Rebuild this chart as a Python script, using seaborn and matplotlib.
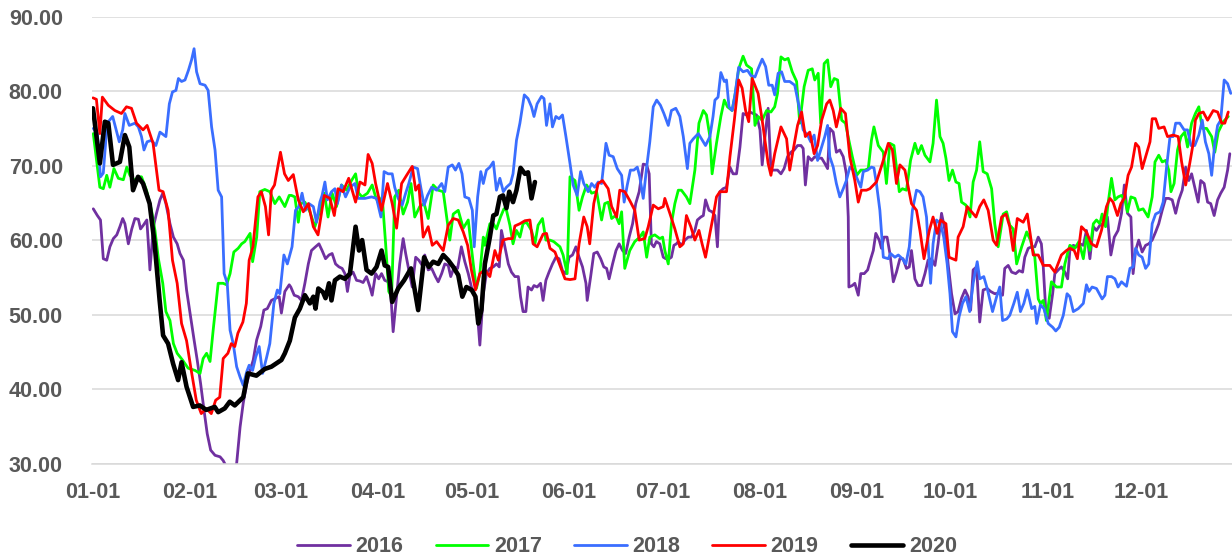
import pandas as pd
import seaborn as sns
import matplotlib.pyplot as plt

# Series names and colours
years = ['2016', '2017', '2018', '2019', '2020']
colors = ['#7030A0', '#00FF00', '#3A6EFF', '#FF0000', '#000000']

# Month ticks (day of year, leap year)
month_days = [0, 31, 60, 91, 121, 152, 182, 213, 244, 274, 305, 335]
month_labels = ['01-01', '02-01', '03-01', '04-01', '05-01', '06-01',
                '07-01', '08-01', '09-01', '10-01', '11-01', '12-01']

# (day of year, value)
s2016 = [(0.1, 64.2), (1.4, 63.3), (2.4, 62.7), (3.3, 57.5), (4.4, 57.3), (5.4, 59.1), (6.5, 60.2), (7.6, 60.7),
         (8.6, 61.8), (9.5, 62.9), (10.2, 62.2), (11.3, 59.5), (12.4, 61.5), (13.4, 62.9), (14.5, 62.8), (15.2, 61.5),
         (16.1, 62), (17.2, 62.7), (17.7, 59.5), (18.2, 56), (19.3, 61.8), (20.3, 63.6), (21.4, 65.4), (22.3, 66.3),
         (23.3, 64.9), (24.6, 62.2), (25.7, 60.4), (26.9, 59.5), (27.8, 58.2), (28.9, 57.3), (29.9, 53.3), (31, 50.2),
         (32.3, 46.6), (33.3, 43.9), (34.4, 40.7), (35.5, 37.1), (36.5, 34), (37.6, 31.8), (39, 31.1), (40.6, 30.9),
         (41.6, 30.4), (42.7, 29.5), (44, 27.0), (45.9, 30), (47, 34.9), (48, 38.1), (49.1, 40.7), (50.2, 42.5),
         (51.2, 43.9), (52.3, 46.6), (53.6, 48.4), (54.6, 50.6), (55.7, 50.8), (57, 51.9), (58.4, 52.2), (59.5, 52.4),
         (60.2, 50.2), (61.3, 53.1), (62.7, 54), (63.2, 53.7), (64.3, 52.6), (65.6, 52.4), (66.6, 51.9), (67.7, 54.2),
         (68.8, 56.8), (69.8, 58.6), (71.1, 59.1), (72.2, 59.5), (73.2, 58.6), (74.3, 57.5), (75.4, 58), (76.4, 58.2),
         (77.5, 56.8), (78.6, 56.4), (79.6, 56.2), (80.5, 55.5), (81.3, 53.1), (82.1, 55.3), (83.1, 55.7), (84.2, 54.6),
         (85.3, 54.5), (86.3, 54.3), (87.4, 55.1), (88.5, 53.7), (89.2, 52.6), (90.3, 55.5), (91.3, 54.8), (92.2, 55.5),
         (93.2, 54.6), (94.3, 54.4), (95.2, 52.4), (95.9, 47.7), (97, 52.4), (98, 56.8), (99.1, 60.2), (99.9, 58.2),
         (100.9, 56), (102, 53.7), (103.1, 57.7), (104.1, 57.3), (105.2, 56.6), (106, 58), (107.1, 56), (108.2, 56.2),
         (109.4, 55.1), (110.3, 54.4), (111.4, 55.5), (112.4, 56.8), (113.5, 56.6), (114.3, 55.1), (115.4, 56.4),
         (116.5, 56.2), (117.7, 59.1), (118.8, 57.1), (119.9, 55.5), (120.9, 53.7), (122, 52.6), (122.9, 49.7),
         (123.6, 45.9), (124.7, 52.8), (125.7, 55.5), (126.8, 56.2), (127.9, 56.4), (128.9, 56.8), (129.8, 56.4),
         (130.5, 61.3), (131.6, 59.1), (132.7, 56.8), (133.7, 55.7), (134.8, 55.1), (135.9, 55.1), (136.6, 52.4),
         (137.4, 50.4), (138.3, 50.4), (139, 53.7), (140.1, 53.3), (140.9, 53.9), (141.9, 53.7), (143, 54.2),
         (143.8, 51.9), (144.7, 54.6), (145.7, 55.7), (146.8, 56.8), (147.9, 57.7), (148.9, 57.5), (150, 55.9),
         (151.1, 55.5), (152.1, 57.7), (153.2, 58), (154.3, 59.1), (155.3, 57.7), (156.4, 56.4), (157.5, 54.2),
         (157.9, 51.9), (159, 55.1), (160, 58.2), (161.1, 58.4), (162.2, 57.5), (163.2, 56.4), (164.1, 56.2),
         (164.9, 54.8), (166, 56.8), (167.1, 58.6), (168.1, 59.5), (169.2, 58.6), (170.2, 58.2), (171.3, 60.4),
         (172.4, 62.2), (173.4, 64.9), (174.5, 66.5), (175.8, 70.2), (176.9, 70.1), (177.7, 68.9), (178.4, 59.5),
         (179.2, 59.1), (180, 59.8), (181.1, 59.5), (182.2, 57.7), (183, 57.5), (184.1, 57.5), (184.8, 57.7),
         (185.6, 59.3), (186.4, 59.5), (187, 59.8), (188, 59.3), (189.1, 60), (190.2, 60.4), (191.2, 60.4),
         (192.3, 61.3), (193.1, 62.7), (194.2, 63.1), (195, 63.3), (195.7, 65.4), (196.8, 64), (197.8, 63.8),
         (198.7, 63.3), (199.5, 59.1), (200.3, 66.5), (201.3, 66.9), (202.4, 67.1), (203.5, 69.8), (204.5, 68.9),
         (205.6, 68.9), (206.7, 72.5), (207.7, 77), (208.8, 76.8), (209.9, 77.2), (210.9, 77), (212, 76.8),
         (213.1, 74.8), (213.8, 70.1), (214.7, 73.9), (215.7, 77.7), (216.6, 69.4), (217.6, 69.4), (218.7, 69.4),
         (219.8, 68.9), (220.8, 69.6), (221.9, 71.2), (223, 71.8), (224, 72.1), (225.1, 72.7), (226.2, 72.7),
         (226.9, 72.3), (227.6, 67.4), (228.5, 71.2), (229.6, 70.7), (230.6, 71.2), (231.7, 71), (232.8, 71),
         (233.8, 70.3), (234.7, 69.6), (235.4, 75), (236.5, 74.5), (237.5, 71.8), (238.6, 72.1), (239.7, 71.2),
         (240.7, 68.9), (241.3, 63.1), (241.5, 53.7), (242.6, 53.9), (243.4, 54.2), (244.5, 52.6), (245.3, 55.5),
         (246.4, 55.5), (247.5, 56), (248.5, 57.5), (249.3, 58.6), (250.1, 60.9), (251.2, 60), (251.9, 58.9),
         (252.7, 60.4), (253.7, 60.4), (254.6, 58.2), (255.7, 54.4), (256.7, 55.7), (257.8, 57.5), (258.8, 57.5),
         (259.9, 56.2), (260.8, 56.4), (261.5, 58.6), (262.6, 54.8), (263.6, 53.9), (264.7, 53.9), (265.8, 55.5),
         (266.8, 57.3), (267.9, 57.5), (269, 56.6), (270, 59.5), (271.1, 63.6), (272.2, 61.3), (273.2, 56.8),
         (274.3, 52.8), (275.4, 50.1), (276.4, 50.4), (277.5, 52.2), (278.6, 53.3), (279.6, 52.4), (280.4, 50.6),
         (281.2, 56), (282.3, 56.4), (283.3, 49), (284.4, 53.3), (285.7, 53.5), (286.8, 53.1), (288.1, 52.8),
         (289.5, 52.9), (290.6, 52.6), (291.3, 56.2), (292.4, 56.6), (293.5, 55.7), (294.8, 55.5), (295.9, 55.9),
         (297, 55.7), (297.7, 57.7), (298.8, 58.9), (299.9, 59.1), (300.9, 59.1), (302, 60.4), (303, 59.5),
         (303.6, 56.4), (304.4, 50.6), (305.5, 49.5), (306.6, 52.8), (307.3, 55.5), (308.4, 56), (309.4, 56.4),
         (310.5, 55.7), (311.4, 54.8), (312.1, 58.6), (313.2, 59.3), (314.2, 59.1), (315.3, 59.5), (316.4, 59.3),
         (317.4, 61.3), (318.5, 57.5), (319.6, 61.8), (320.6, 61.3), (321.7, 62), (322.8, 62.2), (324.1, 63.1),
         (325.2, 58), (326.3, 60.4), (327.5, 61.3), (328.6, 63.6), (329.5, 67.4), (330.5, 63.6), (331.6, 63.1),
         (332.3, 55.5), (333.1, 58.6), (334.1, 60), (335.2, 58.4), (336.3, 59.3), (337.3, 59.5), (338.4, 60),
         (339.5, 61.1), (340.5, 62.2), (341.6, 64), (342.7, 65.6), (343.7, 65.6), (344.8, 65.4), (345.9, 63.6),
         (346.9, 65.4), (348, 66.7), (349.1, 69.8), (350.1, 68), (351, 68.9), (352, 67.1), (353.1, 65.1), (353.9, 68),
         (355, 67.6), (356.1, 65.1), (357.1, 64.9), (358.2, 63.3), (359.3, 65.4), (360.3, 66.3), (361.4, 67.1),
         (362.5, 69.4), (363.2, 71.6)]

s2017 = [(0.1, 74.3), (1.4, 69.8), (2.2, 67.1), (3.3, 66.9), (4.4, 68.7), (5.4, 67.1), (6.7, 69.6), (8.1, 68.3),
         (9.7, 68.1), (10.8, 69.8), (11.8, 68.7), (13.4, 68), (14.4, 68.5), (15.5, 68.5), (17.1, 66.7), (18.7, 64),
         (19.8, 61.3), (20.9, 57.5), (22.3, 54.2), (23.3, 50.4), (24.6, 49.2), (25.7, 46.1), (26.9, 44.8), (28.6, 43.9),
         (30.4, 42.8), (32.6, 42.5), (34.2, 42.1), (35.2, 44.1), (36.3, 44.8), (37.4, 43.7), (38.4, 47.9), (40, 54.2),
         (41.6, 54.2), (42.7, 54), (43.8, 55.5), (45, 58.4), (46.4, 58.9), (47.5, 59.5), (48.5, 59.8), (50.2, 60.9),
         (51, 57.1), (52.3, 60.4), (53.3, 66.5), (54.9, 66.8), (56.5, 66.5), (58.1, 64.9), (59.5, 65.8), (61.3, 64.5),
         (62.7, 66), (63.4, 66), (64.5, 65.8), (65.6, 62.4), (66.4, 64.9), (67.7, 65.1), (69.3, 63.8), (70.9, 61.8),
         (72.5, 64), (73.9, 66.3), (75.1, 63.1), (76.4, 66.3), (77.8, 64.5), (79.4, 67.4), (81, 66.7), (82.6, 68),
         (83.9, 68.9), (84.9, 66.3), (86, 65.8), (87.7, 66.3), (89.2, 67.4), (90.3, 65.8), (91.3, 64.9), (92.4, 65.8),
         (93.5, 59.5), (94.5, 53.1), (95.4, 52.4), (96.4, 65.8), (97.7, 66.7), (99.1, 63.5), (100.5, 65.1),
         (101.6, 67.6), (102.8, 63.1), (104.4, 64.5), (105.8, 64.9), (107.1, 62.9), (108.7, 67.4), (110.3, 66.7),
         (111.9, 66.5), (113, 63.1), (114, 60), (115.1, 63.5), (116.7, 64), (118.3, 61.6), (119.9, 62.7), (121.5, 56.8),
         (122.5, 53.5), (123.6, 55.5), (124.7, 60.4), (125.2, 59.3), (126.8, 62.2), (127.9, 62.2), (128.9, 61.5),
         (130.2, 63.1), (131.3, 64.2), (132.1, 64), (133.2, 62), (134.2, 59.5), (135.3, 61.3), (136.4, 60.4),
         (137.4, 62.2), (138.5, 62.4), (140.1, 61.3), (141.2, 59.5), (142.2, 62), (143.6, 62.9), (144.7, 60), (146, 60),
         (147.2, 59.8), (149.2, 59.1), (150.2, 58), (151.5, 55.5), (152.4, 68.5), (154, 68), (155.3, 64), (156.4, 65.8),
         (157.7, 67.4), (159.3, 66.3), (160.9, 66.5), (162.5, 62.7), (163.5, 64.9), (164.6, 65.1), (165.7, 62.9),
         (167, 63.3), (168.1, 62.2), (168.9, 63.8), (169.9, 56.2), (171.5, 58.6), (173.1, 59.8), (174.7, 60.4),
         (175.8, 61.1), (176.9, 57.7), (177.9, 60.4), (179.5, 60.7), (181.1, 60.2), (182, 60.4), (182.7, 58.6),
         (183.8, 56.8), (184.8, 62.2), (185.9, 64.9), (187, 66.7), (188, 66.7), (189.6, 65.8), (190.7, 64.9),
         (192.3, 69.4), (193.6, 75.7), (195, 77.4), (196, 76.8), (197.1, 73.9), (197.8, 68.9), (199.2, 73),
         (200.6, 76.6), (201.7, 78.8), (202.7, 77.9), (204.2, 77.4), (205.3, 79.9), (206.3, 83), (207.7, 84.7),
         (208.8, 83.5), (210.4, 83), (211.5, 75.4), (212.5, 76.6), (213.8, 76.1), (215.2, 77.4), (216.6, 77.2),
         (217.8, 77.9), (218.7, 79.7), (219.8, 84.6), (221, 84.2), (222.1, 84.4), (223.4, 82.6), (224.8, 81.3),
         (225.8, 75.7), (227.2, 80.6), (228.5, 82.8), (229.8, 83), (230.6, 81.5), (231.7, 82.4), (232.5, 75.7),
         (233.6, 83.7), (234.7, 84.2), (235.7, 80.6), (236.8, 81.7), (237.9, 81.5), (239.2, 76.1), (240.4, 75.7),
         (241.5, 73.4), (242.6, 71.2), (244, 68.7), (245.3, 69.4), (246.6, 69.4), (247.7, 69.6), (248.7, 73.4),
         (249.5, 75.2), (250.9, 72.7), (252.5, 71.8), (253.5, 67.6), (254.6, 73), (255.9, 72.7), (256.7, 69.8),
         (257.6, 66.5), (258.6, 66.9), (259.9, 66.7), (261.2, 70.7), (262.6, 73), (263.6, 71.6), (264.7, 72.7),
         (265.8, 71.4), (267.4, 70.5), (268.4, 73), (269.5, 78.8), (270.6, 73.9), (271.6, 73), (272.5, 71),
         (273.5, 68), (274.6, 69.4), (275.7, 67.8), (276.7, 67.6), (277.5, 65.1), (278.9, 64.7), (280.2, 63.1),
         (281.2, 67.8), (282.3, 69.4), (283.3, 73.2), (284.4, 69.2), (285.7, 68.9), (287.1, 66.9), (288.1, 62.2),
         (289.2, 59.1), (290.8, 63.5), (291.9, 63.8), (292.9, 62), (294, 61.5), (295.1, 56.8), (296.7, 59.1),
         (298.3, 61.1), (299.5, 60), (300.9, 57.7), (302, 52.1), (302.7, 51.5), (303.6, 51.9), (304.6, 49.2),
         (306.2, 54.4), (307.8, 53.7), (309.4, 53.7), (310.5, 56.8), (311.6, 58.6), (312.1, 59.3), (313.7, 58.9),
         (315, 59.8), (316.4, 57.5), (317.4, 60.4), (318.5, 58.6), (319.6, 62.2), (320.6, 62.7), (321.7, 62.2),
         (322.4, 63.5), (323.5, 61.8), (324.3, 64.9), (325.4, 68.3), (326.5, 65.4), (327.5, 65.8), (328.6, 66),
         (329.7, 65.4), (330.5, 63.8), (331.6, 65.8), (332.9, 65.6), (334.1, 64), (335.5, 64.2), (337.1, 63.1),
         (338.4, 65.8), (339.3, 70.5), (340.5, 71.4), (341.6, 70.5), (342.7, 70.7), (343.7, 69.4), (344.4, 66.5),
         (345.4, 67.6), (346.5, 72.1), (347.6, 73.9), (348.8, 74.5), (349.7, 72.5), (351, 75.7), (352.2, 77),
         (353.3, 77.9), (354.4, 75), (355.8, 75), (357.4, 73.9), (358.4, 71.8), (359.5, 74.5), (361.1, 75.9),
         (362.7, 76.6)]

s2018 = [(0.1, 75), (1.4, 74.3), (2.4, 68.5), (3.3, 69), (4.2, 73.9), (4.9, 75.9), (6.3, 76.6), (7.4, 74.8),
         (8.4, 73.2), (9.5, 74.8), (10.2, 77), (11.6, 75.4), (13.4, 75.7), (14.5, 75.2), (15.5, 73.9), (16.3, 72.1),
         (17.3, 73.2), (18.7, 73.4), (20.1, 72.7), (21.4, 74.5), (23.3, 73.9), (24.4, 78.3), (25.4, 79.9), (26.5, 80.1),
         (27.3, 81.7), (28.3, 81.3), (29.4, 81.5), (30.5, 82.8), (31.5, 84.2), (32.3, 85.7), (33.1, 82.6), (34.2, 81),
         (35.8, 80.8), (36.8, 80.1), (37.9, 75.2), (39, 72.1), (40, 66.7), (41.1, 65.8), (41.9, 55.5), (42.9, 54.2),
         (43.8, 47.9), (44.8, 46.1), (45.9, 43), (47, 41.6), (48, 40.5), (49.1, 42.3), (49.9, 43.2), (51, 42.5),
         (52, 44.3), (53.1, 45.7), (54.2, 42.1), (55.5, 44.3), (56.5, 46.1), (57.8, 51.5), (58.9, 53.3), (59.7, 52.8),
         (61, 58), (62.1, 56.8), (63.6, 59.1), (64.7, 64), (65.8, 64.5), (66.8, 66.3), (67.9, 64), (69, 64.9),
         (70.4, 64.5), (71.4, 62.4), (72.5, 65.1), (73.2, 66), (74.1, 67.8), (74.9, 65.4), (76.2, 66.5), (77.3, 66.9),
         (78.1, 64.9), (79.4, 67.4), (80.7, 65.8), (82.1, 67.1), (83.7, 67.6), (84.7, 65.6), (86.9, 65.6), (89, 65.8),
         (90.6, 65.6), (92, 63.1), (93, 69.2), (94.3, 68.9), (95.6, 68.9), (96.4, 67.1), (97.5, 65.6), (98.8, 64.7),
         (99.9, 66.3), (100.9, 67.6), (102.3, 69.8), (103.7, 69.6), (104.8, 66.9), (105.8, 64.7), (106.9, 66),
         (108.2, 67.1), (109.8, 66.7), (111.4, 67.6), (112.4, 66.5), (113.5, 69.8), (114.8, 70.1), (115.8, 69.4),
         (116.9, 70.3), (117.9, 68.9), (118.8, 65.8), (120.1, 65.6), (121.2, 64), (121.8, 59.1), (122.9, 65.8),
         (123.9, 69.2), (124.7, 67.6), (125.7, 69.4), (126.8, 69.8), (127.9, 70.5), (128.9, 66.7), (130, 68.3),
         (131.1, 66.5), (132.1, 67.1), (133.4, 67.6), (134.2, 68.9), (135.3, 73.4), (136.4, 75.7), (137.8, 79.5),
         (139, 79), (140.1, 77.9), (140.9, 76.6), (141.9, 78.3), (143.3, 79.3), (144.1, 79), (144.9, 75.4),
         (146, 78.3), (146.8, 75.2), (147.9, 76.6), (148.9, 76.3), (150, 76.8), (151.1, 73.9), (152.4, 70.3),
         (153.4, 67.4), (154.7, 66), (155.8, 69.2), (156.8, 67.6), (158.2, 66.5), (159.3, 67.6), (160.3, 67.1),
         (161.4, 67.8), (162.5, 67.6), (163.9, 73), (164.9, 71.4), (166.2, 71.2), (167.5, 69.6), (168.9, 68.7),
         (169.7, 65.1), (170.7, 67.4), (171.7, 69.4), (172.8, 69.4), (173.9, 69.8), (174.7, 68.5), (175.8, 65.6),
         (176.9, 69.8), (177.9, 73.2), (179, 77.9), (180.1, 78.8), (181.3, 78.1), (182.4, 77), (183.8, 75.4),
         (184.8, 77.4), (186.2, 77.7), (187.5, 76.6), (188.6, 73.9), (189.9, 69.6), (190.7, 73), (191.8, 73.6),
         (193.4, 74.3), (194.4, 73.6), (195.7, 72.7), (197.1, 73.9), (198.1, 76.6), (198.7, 78.8), (199.7, 79.2),
         (200.6, 82.5), (201.7, 81.3), (202.4, 81.5), (203.2, 77.9), (204.2, 77.4), (205.1, 79.5), (206.3, 83.2),
         (207.7, 82.6), (209.1, 82.8), (210.2, 82.1), (211.5, 81.9), (212.5, 83), (213.8, 84.3), (214.9, 83.3),
         (215.9, 80.8), (217, 80.8), (217.8, 79.5), (218.9, 82.4), (220, 82.6), (221, 81.3), (222.6, 81.3),
         (224.2, 80.8), (225.5, 78.1), (226.9, 74.8), (228.3, 74.1), (229.3, 73.2), (230.4, 74.1), (231.5, 70.7),
         (232.8, 72.5), (233.8, 73.9), (234.7, 75.4), (235.4, 71.2), (236.5, 69.8), (237.5, 67.6), (238.6, 65.8),
         (239.7, 66.9), (240.7, 68), (241.8, 69.8), (242.9, 69.4), (243.9, 68.5), (245.3, 67.1), (246.1, 69.2),
         (247.5, 69.4), (248.7, 69.8), (249.5, 69.7), (250.3, 67.6), (251.4, 64), (252.5, 57.7), (254.1, 57.5),
         (254.8, 58.2), (256.2, 57.7), (257.3, 58), (258.6, 57.5), (259.7, 56.8), (260.8, 59.1), (261.8, 64),
         (263.1, 66.7), (264.2, 66.5), (265.2, 65.8), (266.3, 63.1), (266.8, 59.5), (267.6, 54.2), (268.4, 59.5),
         (269.5, 62.7), (270.8, 62.2), (271.8, 60.4), (272.9, 56.8), (273.8, 52.8), (274.6, 47.7), (275.7, 47),
         (276.7, 49.7), (277.8, 51.5), (278.9, 52.4), (280.1, 50.4), (281.2, 54.2), (282.5, 57.1), (283.3, 54.8),
         (284.6, 55.1), (285.7, 53.5), (287.4, 50.4), (288.7, 52.4), (289.7, 53.7), (290.6, 49.2), (291.9, 49.4),
         (292.9, 49.9), (294.2, 51.5), (295.3, 53), (296.3, 50.4), (297.4, 51.5), (298.5, 53.3), (299.9, 50.8),
         (300.9, 51.1), (301.5, 48.8), (302.7, 51.3), (303.8, 50.8), (305.2, 48.8), (306.6, 48.3), (307.6, 47.8),
         (308.7, 48.3), (310, 49.9), (311.2, 52.8), (312.1, 52.4), (313.2, 50.4), (314.8, 50.8), (316.4, 51.5),
         (317.4, 54), (318.2, 53.1), (319.2, 53.7), (320.6, 53.5), (322.4, 52.1), (323.3, 52.6), (324.1, 55.1),
         (325.4, 55.1), (326.5, 54.8), (327.5, 53.7), (328.6, 54.4), (330.2, 53.8), (331.3, 56.2), (332.3, 56.4),
         (333.1, 58.9), (334.1, 58), (335.2, 57.7), (336.3, 56.2), (337.3, 56.8), (338.4, 62.2), (339.5, 63.5),
         (340.9, 63.8), (341.9, 65.1), (343, 69.8), (344.1, 73.9), (345.1, 73.9), (345.9, 75.7), (347.2, 75.7),
         (348.6, 74.8), (349.7, 74.8), (350.8, 72.7), (352, 72.7), (353.3, 74.1), (354.4, 76.1), (355.4, 73.2),
         (356.5, 71.6), (357.4, 68.7), (358.4, 73), (359.3, 75.4), (360.3, 76.1), (361.4, 81.5), (362.5, 81),
         (363.5, 79.7)]

s2019 = [(0, 79.1), (1.1, 78.9), (2.2, 74.3), (3, 79.2), (4.9, 78.1), (7, 77.4), (9.1, 77), (10.7, 77.9),
         (12.3, 77.7), (13.9, 75.7), (16, 74.8), (17.3, 75.4), (19.2, 73), (21.1, 66.7), (22.4, 66.5), (24, 64),
         (25.4, 57.3), (26.9, 54.2), (28.3, 48.8), (29.9, 46.5), (31.4, 42.5), (33, 38.5), (34.6, 36.7), (36.2, 37.4),
         (37.8, 36.7), (39.2, 38.5), (40.5, 38.9), (41.6, 44.1), (43.1, 44.8), (44.2, 46.1), (45.3, 45.7), (46.3, 47.5),
         (47.9, 49), (49, 51.5), (49.9, 57.3), (51.1, 59.1), (52.7, 65.8), (53.8, 66.5), (55.1, 64.5), (56.1, 60.7),
         (57, 66.7), (58, 67.4), (59.9, 71.8), (61.2, 68.9), (62.4, 68), (64, 68.8), (65.6, 65.4), (67.2, 63.8),
         (68.8, 64.9), (70.4, 61.8), (71.9, 60.7), (73.9, 66), (75.7, 65.6), (77.1, 63.3), (78.3, 66.9), (79.9, 66.5),
         (81.7, 68.3), (83.9, 65.1), (85.3, 67.8), (86.9, 67.4), (87.9, 71.5), (89.2, 70.3), (90.3, 67.6), (92.2, 64),
         (94.1, 67.6), (95.6, 64.9), (97, 61.6), (98.6, 67.6), (100.2, 68.7), (102, 69.9), (103.1, 66.7), (104.1, 67.4),
         (105.5, 60.4), (107.1, 61.8), (108.4, 59.3), (109.8, 59.8), (111.9, 58.6), (113.5, 62), (115.1, 62.9),
         (116.7, 62.7), (118.3, 61.1), (119.7, 59.3), (120.9, 56), (122.2, 53.3), (123.6, 55.5), (125.2, 56),
         (126.8, 55.1), (128.4, 58.6), (129.5, 57.3), (131, 60), (132.7, 60.2), (134, 60.2), (134.8, 61.9),
         (136.4, 62.2), (138, 62.6), (139.6, 62.7), (140.6, 59.5), (141.9, 59.1), (143.8, 60.8), (144.9, 60.9),
         (146, 58.9), (147.6, 58.4), (149.2, 56.6), (150.8, 54.8), (152.4, 54.7), (154, 54.8), (155.3, 59.5),
         (156.8, 63.1), (157.9, 61.8), (158.7, 59.5), (160, 64.9), (161.4, 67.6), (162.8, 68), (164.6, 66.9),
         (165.7, 64.5), (167.3, 63.1), (168.3, 66.7), (169.9, 66.5), (171.5, 65.3), (173.1, 64), (174.5, 60),
         (176.3, 60.2), (177.4, 61.8), (179, 64.7), (180.6, 64.2), (182.2, 64.5), (182.7, 65.6), (184.3, 63.6),
         (185.9, 61.5), (187.5, 59.1), (188.6, 59.5), (189.6, 63.3), (191, 61.8), (192.3, 60), (193.6, 61.3),
         (194.6, 59.5), (195.7, 57.7), (197.1, 60.9), (198.1, 63.1), (199.2, 65.8), (200.3, 66.5), (202.4, 66.5),
         (203.5, 71.2), (204.9, 76.1), (206.3, 81.5), (207.4, 80.4), (208.5, 77.4), (209.5, 75.9), (210.6, 81.7),
         (212.5, 79.7), (213.8, 76.1), (215.7, 70.3), (216.6, 68.7), (217.8, 71.6), (219.8, 75.2), (221.6, 73.6),
         (222.6, 69.4), (223.7, 72.1), (225.1, 75.4), (226.4, 77.2), (227.6, 73.9), (229, 74.5), (230.4, 71.6),
         (231.5, 72.7), (232.8, 76.1), (234.4, 78.3), (235.4, 78.8), (236.5, 77.4), (237.5, 75.2), (238.9, 77.7),
         (240.4, 77), (241.8, 71.2), (243.4, 68), (244.5, 65.1), (245.5, 66.7), (247.1, 66.7), (248.2, 66.9),
         (250.3, 67.8), (252.2, 70.3), (254.1, 73), (255.4, 72.1), (256.7, 67.6), (257.8, 70.1), (259.4, 69.4),
         (261.5, 64.9), (263.1, 64), (264.2, 61.3), (265.5, 57.5), (267.2, 61.3), (268.4, 63.1), (269.7, 60.9),
         (270.8, 62.7), (272.5, 62.2), (273.5, 57.7), (275.7, 57.3), (276.4, 60.4), (278, 61.8), (279.3, 64.5),
         (280.7, 63.8), (282.1, 63.1), (283.3, 64.5), (284.6, 65.4), (286, 64), (287.6, 60), (288.7, 59.3),
         (290.3, 63.1), (291.7, 63.5), (292.9, 61.8), (294, 58.6), (295.3, 62.9), (297.2, 62.4), (298.5, 63.5),
         (300.4, 58), (302, 58), (303.6, 56.6), (305.7, 56.6), (307.3, 55.7), (309.4, 58), (311, 58.6), (312.1, 58.9),
         (313.5, 58.6), (314.5, 57.5), (315.8, 61.8), (317.4, 61.1), (319, 59.5), (320.6, 59.1), (322.2, 61.3),
         (323.8, 64.5), (324.9, 65.6), (325.9, 65.1), (327.3, 63.3), (328.4, 64.9), (329.5, 65.6), (330.7, 68.7),
         (331.8, 69.8), (333.1, 73), (334.1, 72.5), (335.2, 69.6), (336.6, 71.6), (337.7, 73.2), (338.4, 76.3),
         (339.5, 76.3), (340.5, 75), (342.2, 75.2), (343.3, 73.9), (345.1, 74.1), (346.7, 73.9), (347.8, 70.5),
         (349.1, 67.4), (350.4, 70.3), (351.5, 73), (352.2, 76.1), (353.3, 77), (354.7, 77.2), (356.1, 76.1),
         (357.9, 77.4), (359.3, 77.2), (360.6, 75.7), (361.6, 75.7), (362.7, 77.2)]

s2020 = [(0, 77.7), (2.2, 70.3), (3.8, 75.9), (4.9, 75.7), (6.4, 70.1), (8.6, 70.5), (10.2, 74.1), (11.6, 72.5),
         (12.8, 66.7), (14.4, 68.5), (16, 67.6), (18.1, 64.9), (19.7, 59.5), (21.3, 51.9), (22.4, 47.2), (24, 46.1),
         (25.6, 43.4), (27.2, 41.2), (28.3, 43.6), (29.9, 40.3), (32, 37.6), (34.1, 37.8), (36.2, 37.2), (38.9, 37.6),
         (40, 36.9), (42.1, 37.4), (43.7, 38.3), (45.3, 37.8), (48, 38.9), (49.5, 42.1), (52.2, 41.8), (54.9, 42.7),
         (57, 43), (60.2, 43.9), (61.3, 44.8), (62.9, 46.5), (64.5, 49.6), (66.1, 50.8), (67.7, 52.6), (69.3, 51.5),
         (70.4, 52.4), (71.1, 50.8), (72, 53.5), (73.5, 53), (74.3, 52.2), (75.4, 54.2), (76.2, 51.9), (77.3, 54.6),
         (78.9, 55.1), (80.5, 54.8), (82.1, 55.5), (83.9, 61.8), (85, 58.6), (86, 60), (87.4, 56), (89, 55.5),
         (90.6, 56.4), (92.2, 58.6), (93.2, 56.6), (94.3, 56.4), (95.6, 51.7), (97.5, 53.5), (99.4, 54.6),
         (101.6, 56.2), (102.8, 53.3), (103.9, 50.6), (105.8, 57.7), (107.3, 56.4), (108.7, 57.1), (110.3, 56.8),
         (111.9, 58), (113.5, 57.3), (115.1, 56.4), (116.7, 55.3), (118, 52.4), (119.3, 53.7), (121, 53.3),
         (122.2, 52.4), (123.1, 48.8), (124.1, 50.6), (125.2, 56.8), (126.8, 60.4), (127.9, 63.3), (128.9, 63.5),
         (130, 65.8), (131, 66), (132.1, 64.3), (133, 66.5), (134.2, 65.1), (135.3, 66.7), (136.6, 69.7), (138, 68.9),
         (139, 69.1), (140.1, 65.6), (141.2, 67.8)]

series = [s2016, s2017, s2018, s2019, s2020]
frames = []
for yr, pts in zip(years, series):
    frames.append(pd.DataFrame(pts, columns=['day', 'value']).assign(year=yr))
df = pd.concat(frames, ignore_index=True)

sns.set_style('white')
plt.rcParams['font.family'] = ['Liberation Sans', 'DejaVu Sans']
plt.rcParams['font.weight'] = 'bold'

fig = plt.figure(figsize=(12.32, 5.6), dpi=100)
ax = fig.add_axes([0.0747, 0.1723, 0.9253, 0.7979])

for yr, col in zip(years, colors):
    lw = 3.3 if yr == '2020' else 2.0
    sns.lineplot(data=df[df['year'] == yr], x='day', y='value', color=col, linewidth=lw,
                 estimator=None, sort=False, label=yr, ax=ax)

ax.set_xlim(-0.3, 363.9)
ax.set_ylim(30, 90)
ax.set_yticks(range(30, 91, 10))
ax.set_yticklabels([f'{v:.2f}' for v in range(30, 91, 10)])
ax.set_xticks(month_days)
ax.set_xticklabels(month_labels)
ax.set_xlabel('')
ax.set_ylabel('')
ax.grid(axis='y', color='#D9D9D9', linewidth=1.1)
ax.grid(axis='x', visible=False)
ax.set_axisbelow(True)
for side in ['top', 'right', 'left']:
    ax.spines[side].set_visible(False)
ax.spines['bottom'].set_color('#D9D9D9')
ax.spines['bottom'].set_linewidth(1.1)
ax.tick_params(axis='both', length=0, labelsize=15.5, labelcolor='#595959')
ax.tick_params(axis='y', pad=21)
ax.tick_params(axis='x', pad=13)

handles, labels = ax.get_legend_handles_labels()
ax.get_legend().remove()
leg = fig.legend(handles, labels, loc='center', bbox_to_anchor=(0.509, 0.024), ncol=5, frameon=False,
                 fontsize=15.5, handlelength=2.45, handletextpad=0.25, columnspacing=1.5)
for t in leg.get_texts():
    t.set_color('#595959')

fig.savefig('out.png', dpi=100)
